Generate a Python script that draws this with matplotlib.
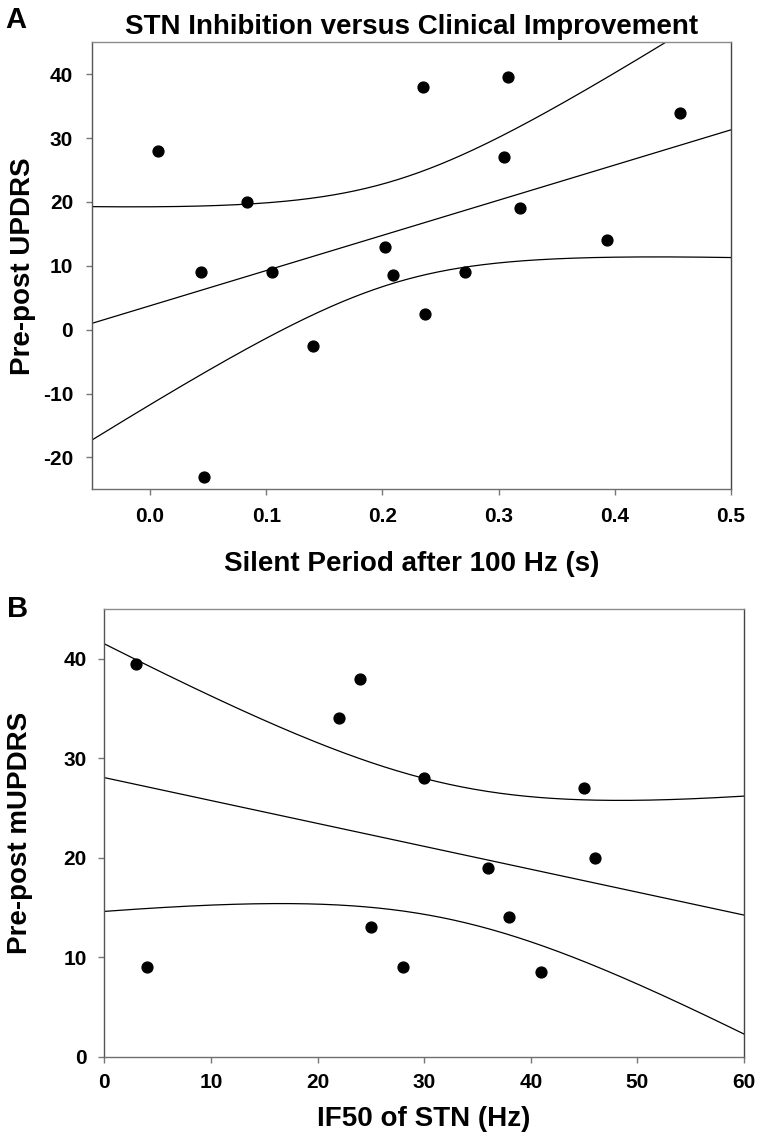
import numpy as np
import matplotlib
matplotlib.use("Agg")
import matplotlib.pyplot as plt

plt.rcParams["font.family"] = ["Liberation Sans", "DejaVu Sans"]
plt.rcParams["axes.unicode_minus"] = False

# Panel A: silent period after 100 Hz (s) vs pre-post UPDRS
sp_x = [0.007, 0.083, 0.044, 0.105, 0.202, 0.209, 0.140, 0.046,
        0.235, 0.308, 0.305, 0.318, 0.271, 0.237, 0.393, 0.456]
sp_y = [28, 20, 9, 9, 13, 8.5, -2.5, -23,
        38, 39.5, 27, 19, 9, 2.5, 14, 34]

# Panel B: IF50 of STN (Hz) vs pre-post mUPDRS
# последняя точка (80 Гц) за пределами оси 0-60, видна только по форме регрессии/ДИ
if_x = [3, 4, 22, 24, 25, 28, 30, 36, 38, 41, 45, 46, 80]
if_y = [39.5, 9, 34, 38, 13, 9, 28, 19, 14, 8.5, 27, 20, 8.5]

# t(0.975) для df = n-2
T95 = {14: 2.1448, 11: 2.2010}

BOLD = dict(fontweight="bold")


def fit_band(x, y, xs):
    x = np.asarray(x, float)
    y = np.asarray(y, float)
    n = len(x)
    b, a = np.polyfit(x, y, 1)
    resid = y - (a + b * x)
    s = np.sqrt(np.sum(resid ** 2) / (n - 2))
    sxx = np.sum((x - x.mean()) ** 2)
    se = s * np.sqrt(1.0 / n + (xs - x.mean()) ** 2 / sxx)
    fit = a + b * xs
    t = T95[n - 2]
    return fit, fit - t * se, fit + t * se


def style_axes(ax, xpad, ypad):
    ax.spines["top"].set_color("#8c8c8c")
    ax.spines["bottom"].set_color("#6e6e6e")
    ax.spines["left"].set_color("#555555")
    ax.spines["right"].set_color("#444444")
    for sp in ax.spines.values():
        sp.set_linewidth(1.0)
    ax.tick_params(direction="out", length=4, width=1, color="#777777",
                   top=False, right=False, labelsize=15)
    ax.tick_params(axis="x", pad=xpad)
    ax.tick_params(axis="y", pad=ypad)
    for lab in ax.get_xticklabels() + ax.get_yticklabels():
        lab.set_fontweight("bold")


def draw_panel(ax, x, y, xlim):
    xs = np.linspace(xlim[0], xlim[1], 300)
    fit, lo, hi = fit_band(x, y, xs)
    for curve in (fit, lo, hi):
        ax.plot(xs, curve, color="black", lw=0.9)
    ax.plot(x, y, "o", color="black", ms=7.8, zorder=3, clip_on=True)


fig = plt.figure(figsize=(7.6, 11.44), dpi=100)

# A
axA = fig.add_axes([92 / 760, 1 - 489.3 / 1144, 639 / 760, 447 / 1144])
draw_panel(axA, sp_x, sp_y, (-0.05, 0.5))
axA.set_xlim(-0.05, 0.5)
axA.set_ylim(-25, 45)
axA.set_xticks([0.0, 0.1, 0.2, 0.3, 0.4, 0.5])
axA.set_xticklabels(["0.0", "0.1", "0.2", "0.3", "0.4", "0.5"])
axA.set_yticks([-20, -10, 0, 10, 20, 30, 40])
style_axes(axA, 9, 9.5)
axA.set_xlabel("Silent Period after 100 Hz (s)", fontsize=20, **BOLD)
axA.xaxis.set_label_coords(0.5, -0.138)
axA.set_ylabel("Pre-post UPDRS", fontsize=20, **BOLD)
axA.yaxis.set_label_coords(-0.088, 0.5)
axA.set_title("STN Inhibition versus Clinical Improvement", fontsize=20, pad=6, **BOLD)
fig.text(5 / 760, 1 - 28 / 1144, "A", fontsize=21, **BOLD)

# B
axB = fig.add_axes([104.3 / 760, 1 - 1056.7 / 1144, 639.7 / 760, 447.7 / 1144])
draw_panel(axB, if_x, if_y, (0, 60))
axB.set_xlim(0, 60)
axB.set_ylim(0, 45)
axB.set_xticks([0, 10, 20, 30, 40, 50, 60])
axB.set_yticks([0, 10, 20, 30, 40])
style_axes(axB, 8, 8.5)
axB.set_xlabel("IF50 of STN (Hz)", fontsize=20, **BOLD)
axB.xaxis.set_label_coords(0.5, -0.110)
axB.set_ylabel("Pre-post mUPDRS", fontsize=20, **BOLD)
axB.yaxis.set_label_coords(-0.111, 0.5)
fig.text(7 / 760, 1 - 617 / 1144, "B", fontsize=21, **BOLD)

fig.savefig("out.png", dpi=100)
